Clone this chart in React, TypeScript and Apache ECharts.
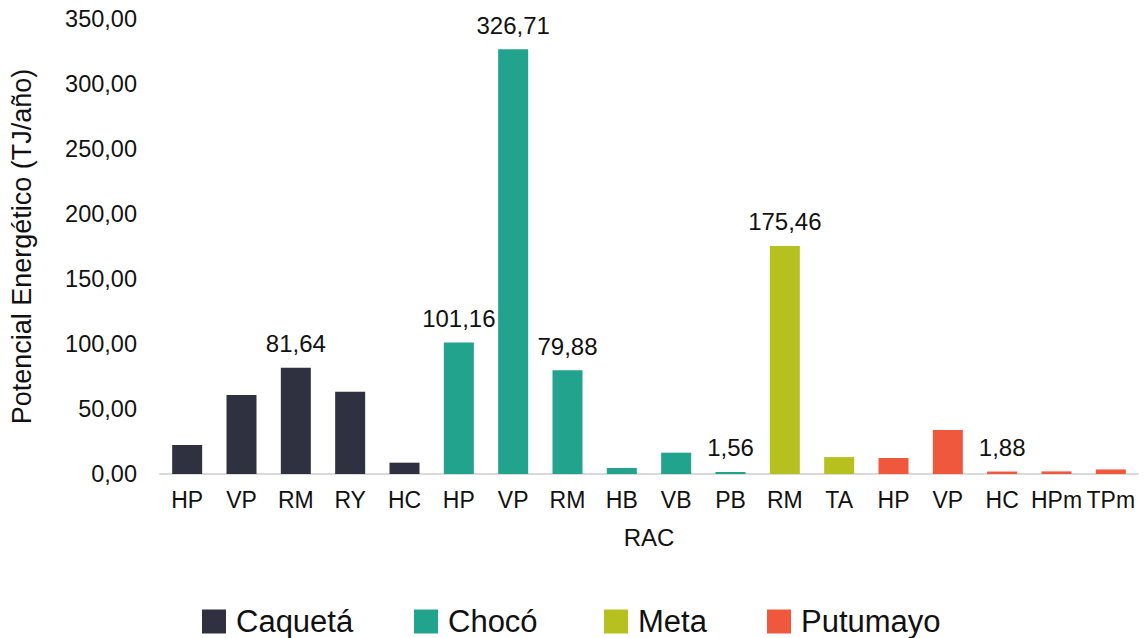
import React, { useEffect, useRef } from "react";
import * as echarts from "echarts";

// RAC codes per department, in axis order
const caquetaCodes = ["HP", "VP", "RM", "RY", "HC"];
const chocoCodes = ["HP", "VP", "RM", "HB", "VB", "PB"];
const metaCodes = ["RM", "TA"];
const putumayoCodes = ["HP", "VP", "HC", "HPm", "TPm"];

// Energy potential (TJ/año)
const caquetaValues = [22.3, 60.8, 81.64, 63.3, 8.7];
const chocoValues = [101.16, 326.71, 79.88, 4.6, 16.4, 1.56];
const metaValues = [175.46, 13.0];
const putumayoValues = [12.3, 33.8, 1.88, 2.0, 3.5];

// Values that carry a data label
const labelledBars = ["Caquetá|RM", "Chocó|HP", "Chocó|VP", "Chocó|RM", "Chocó|PB", "Meta|RM", "Putumayo|HC"];

const departments = ["Caquetá", "Chocó", "Meta", "Putumayo"];
const colors = ["#2F3040", "#22A38D", "#B6C11F", "#F0583E"];

const yTicks = [0, 50, 100, 150, 200, 250, 300, 350];

const FONT = "'Liberation Sans', Arial, sans-serif";
const fmt = (v: number) => v.toFixed(2).replace(".", ",");

// left edge of each legend entry
const legendLefts = [202, 414, 604, 767];

export default function App() {
  const ref = useRef<HTMLDivElement>(null);

  useEffect(() => {
    if (!ref.current) return;
    const chart = echarts.init(ref.current, undefined, { renderer: "svg" });

    const groups = [
      { name: departments[0], codes: caquetaCodes, values: caquetaValues },
      { name: departments[1], codes: chocoCodes, values: chocoValues },
      { name: departments[2], codes: metaCodes, values: metaValues },
      { name: departments[3], codes: putumayoCodes, values: putumayoValues },
    ];

    const categories: string[] = [];
    groups.forEach((g) => g.codes.forEach((c) => categories.push(`${g.name}|${c}`)));

    const series = groups.map((g, gi) => {
      const data: any[] = categories.map(() => "-");
      g.codes.forEach((c, i) => {
        const key = `${g.name}|${c}`;
        const idx = categories.indexOf(key);
        data[idx] = {
          value: g.values[i],
          label: { show: labelledBars.includes(key) },
        };
      });
      return {
        name: g.name,
        type: "bar",
        data,
        barWidth: 30,
        barGap: "-100%",
        itemStyle: { color: colors[gi] },
        label: {
          show: false,
          position: "top",
          distance: 12,
          fontSize: 24,
          fontFamily: FONT,
          color: "#111",
          formatter: (p: any) => fmt(p.value),
        },
      };
    });

    const legends = departments.map((d, i) => ({
      data: [d],
      left: legendLefts[i],
      top: 606,
      padding: 0,
      itemWidth: 24,
      itemHeight: 24,
      icon: "rect",
      textStyle: { fontSize: 31, fontFamily: FONT, color: "#111", padding: [0, 0, 0, 5] },
    }));

    chart.setOption({
      animation: false,
      backgroundColor: "#fff",
      grid: { left: 160, right: 9, top: 19, bottom: 164 },
      legend: legends,
      xAxis: {
        type: "category",
        data: categories,
        name: "RAC",
        nameLocation: "middle",
        nameGap: 51,
        nameTextStyle: { fontSize: 24, fontFamily: FONT, color: "#111" },
        axisLine: { lineStyle: { color: "#D9D9D9", width: 2 } },
        axisTick: { show: false },
        axisLabel: {
          interval: 0,
          margin: 14,
          fontSize: 23,
          fontFamily: FONT,
          color: "#111",
          formatter: (v: string) => v.split("|")[1],
        },
      },
      yAxis: {
        type: "value",
        min: yTicks[0],
        max: yTicks[yTicks.length - 1],
        interval: 50,
        name: "Potencial Energético (TJ/año)",
        nameLocation: "middle",
        nameGap: 125,
        nameTextStyle: { fontSize: 27, fontFamily: FONT, color: "#111" },
        axisLine: { show: false },
        axisTick: { show: false },
        splitLine: { show: false },
        axisLabel: {
          margin: 23,
          fontSize: 23.5,
          fontFamily: FONT,
          color: "#111",
          formatter: (v: number) => fmt(v),
        },
      },
      series,
    });

    return () => chart.dispose();
  }, []);

  return <div ref={ref} style={{ width: 1147, height: 638, position: "absolute", left: 0, top: 0 }} />;
}
